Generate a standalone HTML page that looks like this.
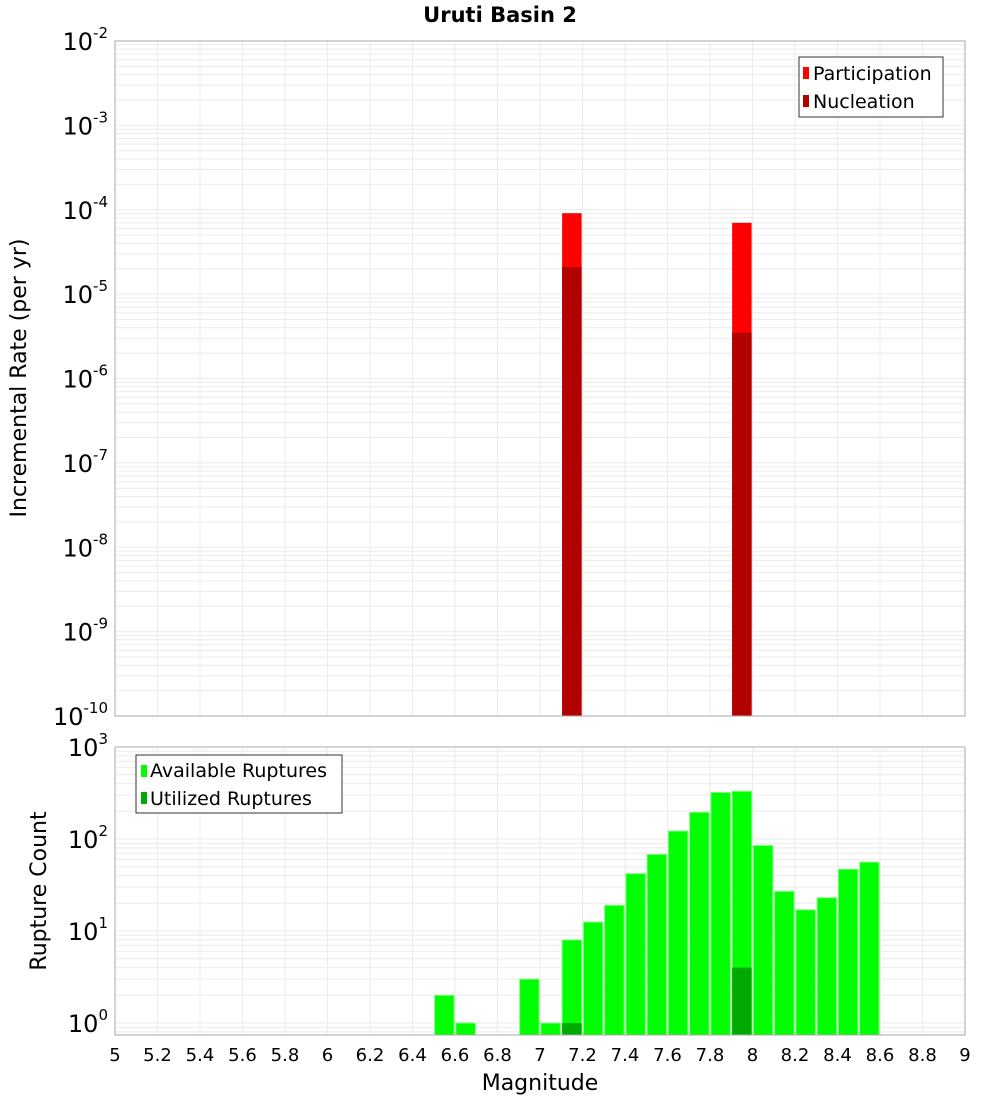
<!DOCTYPE html>
<html><head><meta charset="utf-8"><style>
body{margin:0;background:#fff}
svg{font-family:"DejaVu Sans","Liberation Sans",sans-serif}
</style></head><body>
<svg id="c" width="1000" height="1100" xmlns="http://www.w3.org/2000/svg">
<text x="500" y="22" text-anchor="middle" font-weight="bold" font-size="21">Uruti Basin 2</text>
<g id="topPanel"></g>
<g id="botPanel"></g>
<text transform="translate(26,378) rotate(-90)" text-anchor="middle" font-size="22">Incremental Rate (per yr)</text>
<text transform="translate(46,891) rotate(-90)" text-anchor="middle" font-size="22">Rupture Count</text>
<text x="540" y="1090" text-anchor="middle" font-size="22">Magnitude</text>
<g>
<rect x="799" y="57" width="144" height="60" fill="#fff" stroke="#333"/>
<rect x="803" y="67" width="6" height="12" fill="#ff0000"/>
<text x="813" y="80" font-size="19">Participation</text>
<rect x="803" y="95" width="6" height="12" fill="#b30000"/>
<text x="813" y="108" font-size="19">Nucleation</text>
</g>
<g>
<rect x="136" y="755" width="206" height="58" fill="#fff" stroke="#333"/>
<rect x="141" y="765" width="6" height="12" fill="#00ff00"/>
<text x="150" y="777" font-size="19">Available Ruptures</text>
<rect x="141" y="792" width="6" height="12" fill="#00aa00"/>
<text x="150" y="805" font-size="19">Utilized Ruptures</text>
</g>
</svg>
<script>
const mags=[6.55,6.65,6.95,7.05,7.15,7.25,7.35,7.45,7.55,7.65,7.75,7.85,7.95,8.05,8.15,8.25,8.35,8.45,8.55];
const available=[2,1,3,1,8,12.5,19,42,68,122,195,320,330,85,27,17,23,47,56];
const utilizedMags=[7.15,7.95];
const utilized=[1,4];
const rateMags=[7.15,7.95];
const participation=[9.1e-5,7e-5];
const nucleation=[2.1e-5,3.5e-6];
const xTicks=[5,5.2,5.4,5.6,5.8,6,6.2,6.4,6.6,6.8,7,7.2,7.4,7.6,7.8,8,8.2,8.4,8.6,8.8,9];
const topExp=[-2,-3,-4,-5,-6,-7,-8,-9,-10];
const botExp=[3,2,1,0];

const NS="http://www.w3.org/2000/svg";
const X0=115,X1=965;
const sx=m=>X0+(m-5)/4*(X1-X0);
const topY=v=>41+(-2-Math.log10(v))*84.375;
const botY=v=>747+(3-Math.log10(v))*92;
function mk(p,t,a,txt){const e=document.createElementNS(NS,t);for(const k in a)e.setAttribute(k,a[k]);if(txt!==undefined)e.textContent=txt;p.appendChild(e);return e;}
function panel(g,y0,y1,yf,lo,hi,name){
  mk(g,'rect',{x:X0,y:y0,width:X1-X0,height:y1-y0,fill:'#fff'});
  for(let d=lo;d<hi;d++)for(let k=1;k<10;k++){const y=yf(k*Math.pow(10,d));if(y<y0-0.5||y>y1+0.5)continue;
    const l=mk(g,'line',{x1:X0,x2:X1,y1:y,y2:y,stroke:'#ebebeb','stroke-width':1});
    
    }
  xTicks.forEach(t=>{const x=sx(t);const l=mk(g,'line',{x1:x,x2:x,y1:y0,y2:y1,stroke:'#ebebeb'});
    
    });
}
const topG=document.getElementById('topPanel'),botG=document.getElementById('botPanel');
panel(topG,41,716,topY,-10,-2,'top');
panel(botG,747,1035,botY,-1,3,'bottom');
const bw=19.5;
rateMags.forEach((m,i)=>{
  const x=sx(m)-bw/2;
  let r=mk(topG,'rect',{x:x,y:topY(participation[i]),width:bw,height:716-topY(participation[i]),fill:'#ff0000'});
  
  
  r=mk(topG,'rect',{x:x,y:topY(nucleation[i]),width:bw,height:716-topY(nucleation[i]),fill:'#b30000'});
  
  
});
mags.forEach((m,i)=>{
  const x=sx(m)-bw/2,y=botY(available[i]);
  const r=mk(botG,'rect',{x:x,y:y,width:bw,height:1035-y,fill:'#00ff00',stroke:'#7fff7f','stroke-width':1});
  
  
});
utilizedMags.forEach((m,i)=>{
  const x=sx(m)-bw/2,y=botY(utilized[i]);
  const r=mk(botG,'rect',{x:x,y:y,width:bw,height:1035-y,fill:'#00aa00'});
  
  
});
mk(topG,'rect',{x:X0,y:41,width:X1-X0,height:675,fill:'none',stroke:'#aaa'});
mk(botG,'rect',{x:X0,y:747,width:X1-X0,height:288,fill:'none',stroke:'#aaa'});
function ylab(g,e,y,name){const t=mk(g,'text',{x:108,y:y+9,'text-anchor':'end','font-size':24});
  
  
  t.textContent='10';const s=document.createElementNS(NS,'tspan');s.setAttribute('dy','-12');s.setAttribute('font-size','15');s.textContent=String(e);t.appendChild(s);}
topExp.forEach(e=>ylab(topG,e,topY(Math.pow(10,e)),'top-y-tick-label'));
botExp.forEach(e=>ylab(botG,e,botY(Math.pow(10,e)),'bottom-y-tick-label'));
xTicks.forEach(t=>{const l=mk(botG,'text',{x:sx(t),y:1061,'text-anchor':'middle','font-size':18},String(t));
  
  });
</script>
</body></html>
